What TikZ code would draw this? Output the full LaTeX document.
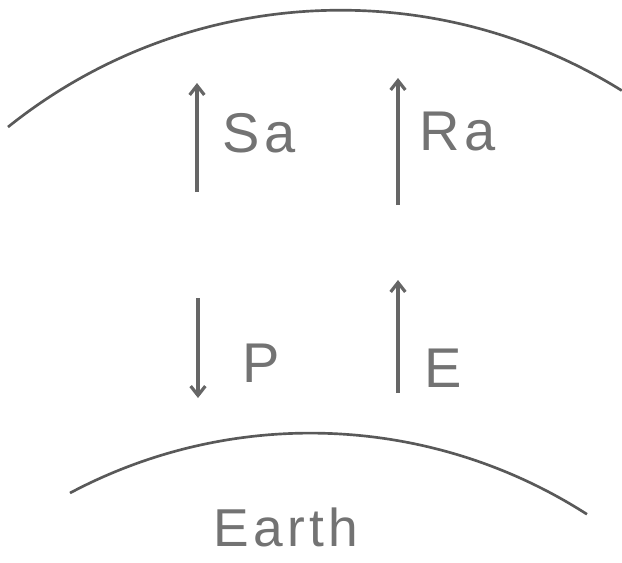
\documentclass[tikz,border=0pt]{standalone}
\usepackage{fontspec}
\setmainfont[LetterSpace=8]{Liberation Sans}
\usetikzlibrary{arrows.meta}

\begin{document}
\begin{tikzpicture}[x=0.75pt, y=-0.75pt,
  flux/.style={line width=2.4pt, black!60, -{Straight Barb[length=7pt, width=11pt]}},
  shell/.style={line width=2pt, black!65},
  lbl/.style={anchor=base west, inner sep=0pt, black!55, font=\fontsize{42}{48}\selectfont}]

\useasboundingbox (0,0) rectangle (622,562);

% Top of the atmosphere
\draw[shell] (8,127) arc[start angle=231.3, end angle=301.9, radius=532];

% Surface
\draw[shell] (70,493) arc[start angle=242, end angle=302.7, radius=512];

% Flux ends
\coordinate (sa0) at (197,192);
\coordinate (sa1) at (197,83);
\coordinate (ra0) at (398,205);
\coordinate (ra1) at (398,78);
\coordinate (p0) at (198,298);
\coordinate (p1) at (198,398);
\coordinate (e0) at (398,393);
\coordinate (e1) at (398,280);

% Fluxes
\draw[flux] (sa0) -- (sa1);
\draw[flux] (ra0) -- (ra1);
\draw[flux] (p0) -- (p1);
\draw[flux] (e0) -- (e1);

% Labels
\node[lbl] (sa) at (222,152) {Sa};
\node[lbl] (ra) at (419,150) {Ra};
\node[lbl] (p) at (242,382) {P};
\node[lbl] (e) at (424,387) {E};
\node[lbl, font=\fontsize{40}{48}\selectfont] (earth) at (213,546) {Earth};

\end{tikzpicture}
\end{document}
